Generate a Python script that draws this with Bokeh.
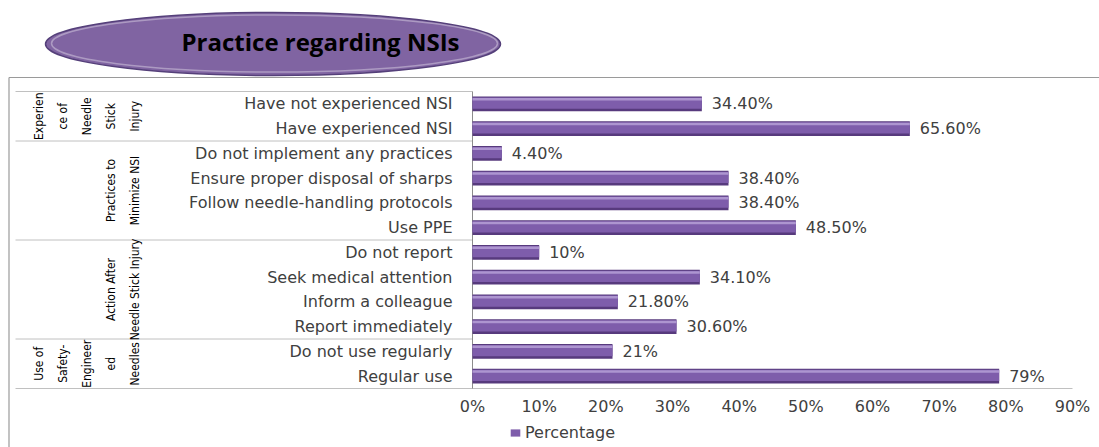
import math
from bokeh.plotting import figure
from bokeh.models import Range1d, Legend, LegendItem, ColumnDataSource
from bokeh.core.properties import value
from bokeh.embed import file_html
from bokeh.resources import INLINE

# ---------------- data ----------------
title_text = "Practice regarding NSIs"
series_name = "Percentage"

groups = ["Experien\nce of\nNeedle\nStick\nInjury",
          "Practices to\nMinimize NSI",
          "Action After\nNeedle Stick Injury",
          "Use of\nSafety-\nEngineer\ned\nNeedles"]
group_sizes = [2, 4, 4, 2]

categories = ["Have not experienced NSI", "Have experienced NSI",
              "Do not implement any practices", "Ensure proper disposal of sharps",
              "Follow needle-handling protocols", "Use PPE",
              "Do not report", "Seek medical attention",
              "Inform a colleague", "Report immediately",
              "Do not use regularly", "Regular use"]
values = [34.4, 65.6, 4.4, 38.4, 38.4, 48.5, 10, 34.1, 21.8, 30.6, 21, 79]
value_labels = ["34.40%", "65.60%", "4.40%", "38.40%", "38.40%", "48.50%",
                "10%", "34.10%", "21.80%", "30.60%", "21%", "79%"]
x_ticks = [0, 10, 20, 30, 40, 50, 60, 70, 80, 90]
x_tick_labels = ["0%", "10%", "20%", "30%", "40%", "50%", "60%", "70%", "80%", "90%"]

# ---------------- layout constants (pixels) ----------------
W, H = 1099, 447
X0, X90 = 472, 1072          # pixel of 0% and 90%
Y_TOP, Y_BOT = 91, 388       # pixel of top / bottom of category band
n = len(categories)
S = (X90 - X0) / x_ticks[-1]
R = (Y_BOT - Y_TOP) / n


def px_x(sx):
    return (sx - X0) / S


def px_y(sy):
    return (sy - Y_TOP) / R


rows = [i + 0.5 for i in range(n)]
bounds = [0]
for s in group_sizes:
    bounds.append(bounds[-1] + s)
group_centers = [(bounds[i] + bounds[i + 1]) / 2 for i in range(len(group_sizes))]

FONT_NAME = "DejaVu Sans"
FONT = value(FONT_NAME)
NARROW = value("'Liberation Sans Narrow', 'DejaVu Sans Condensed', 'Roboto', sans-serif")
GREY_TXT = "#404040"
TXT_SIZE = "16px"

x_start, x_end = px_x(0), px_x(W)
y_top, y_bottom = px_y(0), px_y(H)

p = figure(width=W, height=H, x_range=Range1d(x_start, x_end),
           y_range=Range1d(y_bottom, y_top), x_axis_location=None,
           y_axis_location=None, min_border=0, toolbar_location=None,
           output_backend="svg")
p.grid.visible = False
p.outline_line_color = None

# ---- title shape ----
p.ellipse(x=[px_x(272.5)], y=[px_y(43.5)], width=455, height=63,
          width_units="screen", height_units="screen",
          fill_color="#8064A2", line_color="#55407a", line_width=1.5)
p.ellipse(x=[px_x(274)], y=[px_y(43)], width=446, height=57,
          width_units="screen", height_units="screen",
          fill_color=None, line_color="white", line_alpha=0.35, line_width=1.5)
p.text(x=[px_x(320)], y=[px_y(41)], text=[title_text], text_align="center",
       text_baseline="middle", text_font=value("Open Sans"), text_font_style="bold",
       text_font_size="24px", text_color="black")

# ---- outer chart box ----
p.segment(x0=[px_x(8.5), px_x(8.5)], y0=[px_y(77), px_y(77)],
          x1=[x_end, px_x(8.5)], y1=[px_y(77), y_bottom],
          line_color="#9a9a9a", line_width=1.2)

# ---- table lines (group separators, category axis) ----
sep_x0 = px_x(15)
p.segment(x0=[sep_x0] * (len(bounds) - 1), y0=bounds[:-1],
          x1=[0] * (len(bounds) - 1), y1=bounds[:-1],
          line_color="#c0c0c0", line_width=1)
p.segment(x0=[sep_x0], y0=[bounds[-1]], x1=[x_ticks[-1]], y1=[bounds[-1]],
          line_color="#c0c0c0", line_width=1)
p.segment(x0=[0], y0=[bounds[0]], x1=[0], y1=[bounds[-1]],
          line_color="#8c8c8c", line_width=1)

# ---- bars ----
src = ColumnDataSource(dict(
    y=rows,
    y_mid=[r - 0.03 for r in rows],
    y_hi=[r - 0.19 for r in rows],
    zero=[0] * n,
    v=values, lab=value_labels, cat=categories))

p.hbar(y="y", left=0, right="v", height=0.6, source=src,
       fill_color="#573a7d", line_color=None)
mid = p.hbar(y="y_mid", left=0, right="v", height=0.46, source=src,
             fill_color="#7e5dab", line_color=None)
p.hbar(y="y_hi", left=0, right="v", height=0.1, source=src,
       fill_color="#ad95d0", line_color=None)

p.text(x="v", y="y", text="lab", source=src, x_offset=10,
       text_baseline="middle", text_align="left", text_font=FONT,
       text_font_size=TXT_SIZE, text_color=GREY_TXT)

# ---- category labels ----
p.text(x="zero", y="y", text="cat", source=src, x_offset=-20,
       text_baseline="middle", text_align="right", text_font=FONT,
       text_font_size=TXT_SIZE, text_color=GREY_TXT)

# ---- group labels (rotated, multi-line) ----
p.text(x=[px_x(142)] * len(groups), y=group_centers, text=groups,
       angle=math.pi / 2, text_align="center", text_baseline="bottom",
       text_font=NARROW, text_font_size="12px", text_line_height=1.72,
       text_color="black")

# ---- value-axis tick labels ----
p.text(x=x_ticks, y=[px_y(406)] * len(x_ticks), text=x_tick_labels,
       text_align="center", text_baseline="middle", text_font=FONT,
       text_font_size=TXT_SIZE, text_color=GREY_TXT)

# ---- legend ----
legend = Legend(items=[LegendItem(label=series_name, renderers=[mid])],
                location=(509, 5), orientation="horizontal",
                glyph_width=12, glyph_height=9, label_standoff=4,
                label_text_font=FONT_NAME, label_text_font_size=TXT_SIZE,
                label_text_color=GREY_TXT, padding=0, margin=0,
                border_line_color=None, background_fill_alpha=0)
p.add_layout(legend)

open("out.html", "w").write(file_html(p, INLINE))
